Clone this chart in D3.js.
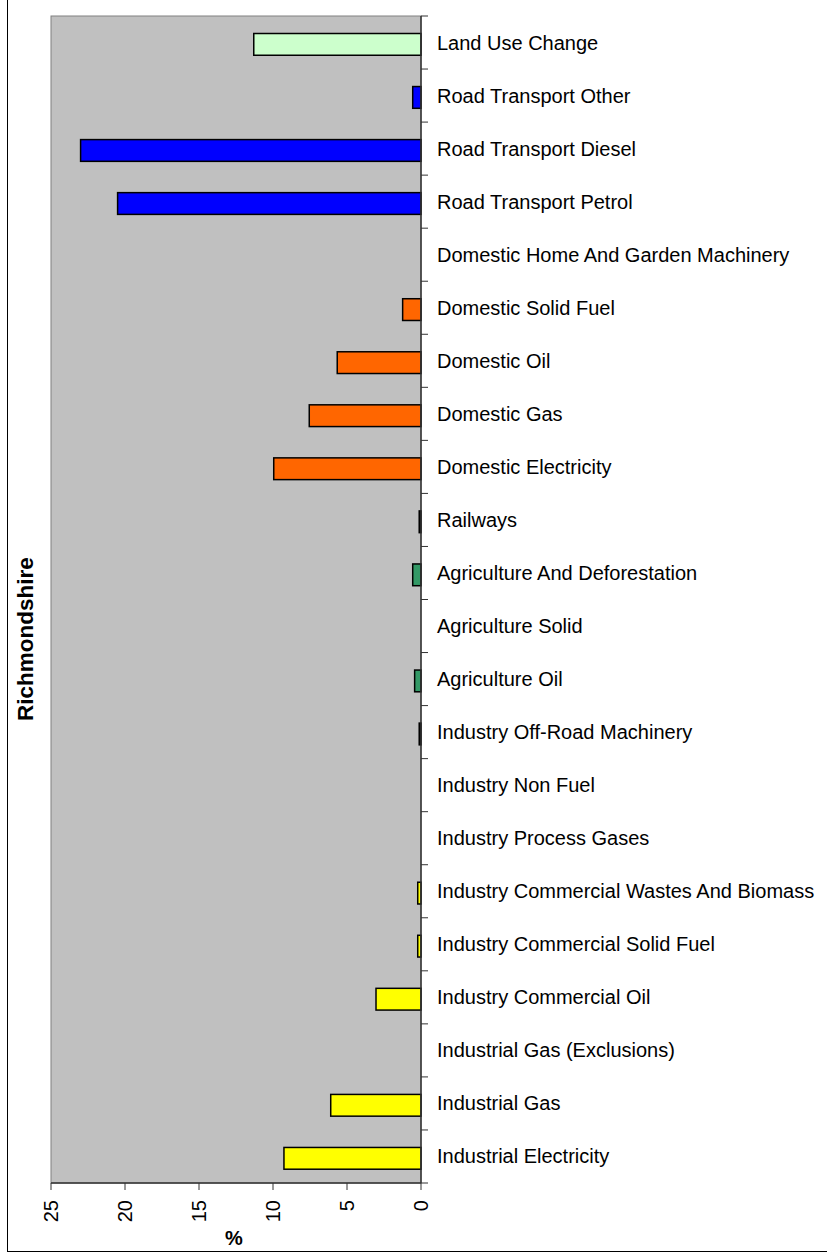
<!DOCTYPE html>
<html><head><meta charset="utf-8">
<script src="https://cdn.jsdelivr.net/npm/d3@7"></script>
<style>body{margin:0;background:#fff}svg{display:block}text{font-family:"Liberation Sans",Arial,sans-serif}</style>
</head><body>
<script>
const categories = ["Land Use Change","Road Transport Other","Road Transport Diesel","Road Transport Petrol","Domestic Home And Garden Machinery","Domestic Solid Fuel","Domestic Oil","Domestic Gas","Domestic Electricity","Railways","Agriculture And Deforestation","Agriculture Solid","Agriculture Oil","Industry Off-Road Machinery","Industry Non Fuel","Industry Process Gases","Industry Commercial Wastes And Biomass","Industry Commercial Solid Fuel","Industry Commercial Oil","Industrial Gas (Exclusions)","Industrial Gas","Industrial Electricity"];
const values = [11.3,0.56,23.0,20.5,0,1.24,5.66,7.55,9.95,0.12,0.56,0,0.43,0.12,0,0,0.22,0.22,3.04,0,6.1,9.26];
const colors = ["#CCFFCC","#0000FF","#0000FF","#0000FF","#FF6600","#FF6600","#FF6600","#FF6600","#FF6600","#000000","#339966","#339966","#339966","#000000","#FFFF00","#FFFF00","#FFFF00","#FFFF00","#FFFF00","#FFFF00","#FFFF00","#FFFF00"];
const valueTicks = [0,5,10,15,20,25];
const seriesName = "Richmondshire";
const axisTitle = "%";

(function(){
const W = 827, H = 1257;
const pLeft = 51, pRight = 421, pTop = 16, pBottom = 1183;
const svg = d3.select("body").append("svg").attr("width", W).attr("height", H);

// outer frame
svg.append("rect").attr("x", 7.5).attr("y", -5).attr("width", 900).attr("height", 1256.5)
  .attr("fill", "none").attr("stroke", "#000").attr("stroke-width", 1);

const x = d3.scaleLinear().domain([25, 0]).range([pLeft, pRight]);
const y = d3.scaleBand().domain(categories).range([pTop, pBottom]);

// plot area
svg.append("rect").attr("x", pLeft).attr("y", pTop).attr("width", pRight - pLeft).attr("height", pBottom - pTop)
  .attr("fill", "#C0C0C0").attr("stroke", "#808080").attr("stroke-width", 1);

// bars
svg.append("g").selectAll("rect").data(categories).join("rect")
  .attr("x", (d, i) => x(values[i]))
  .attr("y", d => y(d) + y.bandwidth() * 0.33)
  .attr("width", (d, i) => x(0) - x(values[i]))
  .attr("height", y.bandwidth() * 0.41)
  .attr("fill", (d, i) => colors[i])
  .attr("stroke", "#000").attr("stroke-width", 1.5);

// category axis
const catAxis = svg.append("g");
catAxis.append("line").attr("x1", pRight).attr("x2", pRight).attr("y1", pTop).attr("y2", pBottom)
  .attr("stroke", "#333").attr("stroke-width", 1.5);
const bounds = categories.map(c => y(c)).concat([y.range()[1]]);
catAxis.selectAll("line.t").data(bounds).join("line").attr("class", "t")
  .attr("x1", pRight).attr("x2", pRight + 7).attr("y1", d => d).attr("y2", d => d)
  .attr("stroke", "#333").attr("stroke-width", 1);
catAxis.selectAll("text").data(categories).join("text")
  .attr("x", pRight + 16).attr("y", d => y(d) + y.bandwidth() / 2)
  .attr("dy", "0.35em").attr("font-size", "20px").attr("fill", "#000").text(d => d);

// value axis
const valAxis = svg.append("g");
valAxis.append("line").attr("x1", pLeft).attr("x2", pRight).attr("y1", pBottom).attr("y2", pBottom)
  .attr("stroke", "#333").attr("stroke-width", 1.5);
valAxis.selectAll("line.t").data(valueTicks).join("line").attr("class", "t")
  .attr("x1", d => x(d)).attr("x2", d => x(d)).attr("y1", pBottom).attr("y2", pBottom + 7)
  .attr("stroke", "#333").attr("stroke-width", 1);
valAxis.selectAll("text").data(valueTicks).join("text")
  .attr("transform", d => `translate(${x(d)},${pBottom + 17}) rotate(-90)`)
  .attr("text-anchor", "end").attr("dy", "0.35em").attr("font-size", "20px").attr("fill", "#000")
  .text(d => d);

svg.append("text").attr("x", 234).attr("y", 1245).attr("text-anchor", "middle")
  .attr("font-size", "20px").attr("font-weight", "bold").text(axisTitle);

svg.append("text").attr("transform", `translate(33,639) rotate(-90)`).attr("text-anchor", "middle")
  .attr("font-size", "22.5px").attr("font-weight", "bold").text(seriesName);
})();
</script>
</body></html>
